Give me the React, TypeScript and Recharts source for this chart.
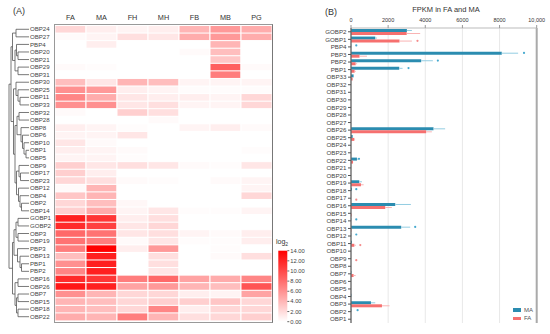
import {
  BarChart,
  Bar,
  Cell,
  XAxis,
  YAxis,
  ScatterChart,
  Scatter,
  ComposedChart,
  Line,
  ErrorBar,
  CartesianGrid,
  ReferenceLine,
} from 'recharts';

const FONT = '"Liberation Sans", Arial, sans-serif';

// heatmap rows, top to bottom (dendrogram leaf order)
const genes = [
  'OBP24', 'OBP27', 'PBP4', 'OBP20', 'OBP21', 'OBP29', 'OBP31', 'OBP30', 'OBP25', 'OBP11',
  'OBP33', 'OBP32', 'OBP28', 'OBP8', 'OBP6', 'OBP10', 'OBP1', 'OBP5', 'OBP9', 'OBP17',
  'OBP23', 'OBP12', 'OBP4', 'OBP2', 'OBP14', 'GOBP1', 'GOBP2', 'OBP3', 'OBP19', 'PBP3',
  'OBP13', 'PBP1', 'PBP2', 'OBP16', 'OBP26', 'OBP7', 'OBP15', 'OBP18', 'OBP22',
];
const tissues = ['FA', 'MA', 'FH', 'MH', 'FB', 'MB', 'PG'];

// log2 expression per tissue, same order as genes
const FA = [3, 0.5, 0, 0, 0, 0.5, 0, 4.5, 7, 7.5, 7, 0.5, 0, 1.5, 1, 2, 1.5, 1, 3.5, 3.5, 3, 0.5, 4, 3, 3.5, 12.5, 12, 9, 8.5, 8, 4.5, 7, 7.5, 12, 13, 7, 5, 5, 5.5];
const MA = [1.5, 1, 1.5, 0, 0, 0.3, 0, 2, 6.5, 5.5, 7, 0, 0, 1, 1, 0.5, 1, 1, 2, 1.5, 2.5, 5, 5, 4.5, 5.5, 11.5, 11, 8.5, 8, 14, 12.5, 12.5, 12.5, 11.5, 12.5, 5, 4.5, 4.5, 5];
const FH = [1, 2.5, 0, 0, 0, 0, 0, 5, 1.5, 2, 2, 3.5, 0, 0.3, 2, 0, 0.5, 0.3, 2.5, 0, 0.5, 0, 0, 0.8, 1, 1.5, 2, 2, 0.5, 1.5, 0, 0, 0, 8, 6, 3, 3, 3, 8];
const MH = [1.5, 2, 0, 0, 0, 0, 0, 4.5, 1, 1.5, 2.5, 2.5, 0.5, 0, 0, 0, 0, 0, 2, 0, 0.3, 0, 0, 0, 2, 2.5, 3, 2.5, 2, 6.5, 2.5, 2.5, 2, 9, 6.5, 3, 3.5, 7.5, 5];
const FB = [5, 5.5, 0, 0.5, 0, 0, 0, 1, 0.3, 1.5, 1, 0, 0, 1, 0, 0, 0, 0, 0.5, 0, 0, 0, 0, 0, 0.3, 0, 0, 1, 0.3, 0, 0, 0, 0, 6, 5, 1.5, 3.5, 1.5, 2.5];
const MB = [6.5, 6.5, 5, 4.5, 4, 9.5, 8, 1, 0.3, 1, 1, 0, 0, 1.5, 0, 0, 0, 0, 0.3, 0, 0.5, 0, 0, 0, 0.3, 0, 0, 0.5, 0.3, 0.3, 0.5, 0, 0, 5.5, 4.5, 1, 4, 3, 3];
const PG = [5.5, 5.5, 0, 0, 0, 0.5, 0, 1, 0.3, 3, 3, 0, 0, 0.5, 0, 0, 0.3, 0, 2, 0, 1, 1, 3, 0, 1, 0, 0, 1.5, 1.5, 0, 2.5, 0, 0, 7.5, 10, 6, 3, 3, 3.5];
const heatValues: Record<string, number[]> = { FA, MA, FH, MH, FB, MB, PG };

const legendTicks = [0, 2, 4, 6, 8, 10, 12, 14];

// dendrogram merges: [left, right, height, name]
const merges: [string, string, number, string][] = [
  ['OBP20', 'OBP21', 11, 'A'],
  ['PBP4', 'A', 12.5, 'B'],
  ['OBP29', 'OBP31', 11, 'C'],
  ['B', 'C', 14, 'D'],
  ['OBP24', 'OBP27', 13, 'E'],
  ['E', 'D', 16.5, 'F'],
  ['OBP11', 'OBP33', 9, 'G'],
  ['OBP25', 'G', 11, 'H'],
  ['OBP30', 'H', 13, 'I'],
  ['OBP1', 'OBP5', 3, 'J'],
  ['OBP10', 'J', 5, 'K'],
  ['OBP6', 'K', 6.5, 'L'],
  ['OBP8', 'L', 8, 'M'],
  ['OBP32', 'OBP28', 10, 'N'],
  ['N', 'M', 12, 'O'],
  ['OBP17', 'OBP23', 8.5, 'P'],
  ['OBP9', 'P', 10, 'Q'],
  ['OBP2', 'OBP14', 7.5, 'R'],
  ['OBP4', 'R', 9, 'S'],
  ['OBP12', 'S', 10.5, 'T'],
  ['Q', 'T', 12.5, 'U'],
  ['O', 'U', 14, 'V'],
  ['I', 'V', 15.5, 'W'],
  ['F', 'W', 18, 'X'],
  ['GOBP1', 'GOBP2', 11, 'Y1'],
  ['OBP3', 'OBP19', 11, 'Y2'],
  ['Y1', 'Y2', 13, 'Y3'],
  ['PBP1', 'PBP2', 7.5, 'Z1'],
  ['OBP13', 'Z1', 9, 'Z2'],
  ['PBP3', 'Z2', 11.5, 'Z3'],
  ['Y3', 'Z3', 15, 'Z4'],
  ['OBP16', 'OBP26', 11, 'a1'],
  ['OBP7', 'OBP15', 11, 'a2'],
  ['OBP18', 'OBP22', 11, 'a3'],
  ['a2', 'a3', 12.5, 'a4'],
  ['a1', 'a4', 14, 'a5'],
  ['Z4', 'a5', 16.5, 'a6'],
  ['X', 'a6', 20, 'root'],
];

// panel B: FPKM in FA and MA
const fpkmGenes = [
  'GOBP2', 'GOBP1', 'PBP4', 'PBP3', 'PBP2', 'PBP1', 'OBP33', 'OBP32', 'OBP31', 'OBP30',
  'OBP29', 'OBP28', 'OBP27', 'OBP26', 'OBP25', 'OBP24', 'OBP23', 'OBP22', 'OBP21', 'OBP20',
  'OBP19', 'OBP18', 'OBP17', 'OBP16', 'OBP15', 'OBP14', 'OBP13', 'OBP12', 'OBP11', 'OBP10',
  'OBP9', 'OBP8', 'OBP7', 'OBP6', 'OBP5', 'OBP4', 'OBP3', 'OBP2', 'OBP1',
];
const maFpkm = [3010, 1306, 10, 8118, 3780, 2597, 140, 0, 0, 0, 0, 0, 0, 4441, 90, 0, 0, 320, 0, 0, 446, 50, 0, 2382, 0, 10, 2704, 10, 50, 0, 0, 0, 20, 0, 0, 20, 1075, 20, 0];
const faFpkm = [3000, 2613, 0, 460, 250, 195, 90, 0, 0, 0, 0, 0, 0, 4048, 180, 0, 0, 110, 0, 0, 537, 0, 0, 1844, 30, 0, 20, 0, 180, 0, 0, 0, 140, 0, 0, 0, 1667, 0, 0];
const maTop: Record<string, number> = { GOBP2: 3280, GOBP1: 1400, PBP3: 9000, PBP2: 4409, PBP1: 2777, OBP26: 5070, OBP22: 410, OBP19: 590, OBP16: 3225, OBP13: 3188, OBP3: 1306 };
const faTop: Record<string, number> = { GOBP2: 3725, GOBP1: 3280, PBP3: 860, PBP2: 330, PBP1: 260, OBP26: 4355, OBP25: 220, OBP19: 680, OBP16: 2200, OBP11: 260, OBP7: 250, OBP3: 2075 };
const maDots: Record<string, number> = { PBP4: 285, PBP3: 9317, PBP2: 4677, PBP1: 3097, OBP22: 430, OBP18: 285, OBP14: 285, OBP13: 3457, OBP12: 285, OBP2: 355 };
const faDots: Record<string, number> = { GOBP1: 3580, OBP17: 285, OBP11: 500, OBP9: 285 };
const fpkmTicks = [0, 2000, 4000, 6000, 8000, 10000];

const series = [
  { key: 'MA', color: '#2b8cb0', err: '#93cde2', dot: '#46a9cf' },
  { key: 'FA', color: '#f6706f', err: '#f9b4b4', dot: '#f58b8b' },
];

function heatColor(v: number) {
  const t = Math.pow(Math.max(0, Math.min(1, v / 14)), 1.2);
  const gb = Math.round(255 * (1 - t));
  return `rgb(255,${gb},${gb})`;
}

const heatRows = genes.map((g) => {
  const row: Record<string, string | number> = { name: g };
  tissues.forEach((t) => (row[t] = 1));
  return row;
});

// dendrogram elbow polylines in (height, row) space
const nodePos: Record<string, { h: number; y: number }> = {};
genes.forEach((g, i) => (nodePos[g] = { h: 0, y: i }));
const dendroLinks = merges.map(([a, b, h, name]) => {
  const l = nodePos[a];
  const r = nodePos[b];
  nodePos[name] = { h, y: (l.y + r.y) / 2 };
  return [
    { x: l.h, y: l.y },
    { x: h, y: l.y },
    { x: h, y: r.y },
    { x: r.h, y: r.y },
  ];
});

const fpkmData = fpkmGenes.map((g, i) => ({
  name: g,
  MA: maFpkm[i],
  FA: faFpkm[i],
  MAerr: [0, maTop[g] != null ? maTop[g] - maFpkm[i] : 0],
  FAerr: [0, faTop[g] != null ? faTop[g] - faFpkm[i] : 0],
  MAdot: maDots[g] ?? null,
  FAdot: faDots[g] ?? null,
}));

const HeatTick = (p: any) => (
  <text x={p.x - 25} y={p.y} dy={2.1} fontSize={6.1} fill="#444" textAnchor="start">
    {p.payload.value}
  </text>
);

const dotAt = (color: string, dy: number, key: string) => (p: any) => {
  if (p.cx == null || p.cy == null || p.payload?.[key] == null) return <g key={p.index} />;
  return <circle key={p.index} cx={p.cx} cy={p.cy + dy} r={1.1} fill={color} />;
};

export default function App() {
  return (
    <div style={{ position: 'absolute', left: 0, top: 0, width: 550, height: 334, background: '#fff', fontFamily: FONT }}>
      <div style={{ position: 'absolute', left: 13, top: 6, fontSize: 9, lineHeight: '10px', color: '#333' }}>(A)</div>
      <div style={{ position: 'absolute', left: 325, top: 7, fontSize: 9, lineHeight: '10px', color: '#333' }}>(B)</div>

      {/* dendrogram */}
      <div style={{ position: 'absolute', left: 0, top: 0 }}>
        <ScatterChart width={40} height={334} margin={{ top: 25.5, right: 11, bottom: 13.5, left: 9 }}>
          <XAxis type="number" dataKey="x" domain={[0, 20]} reversed hide />
          <YAxis type="number" dataKey="y" domain={[-0.5, 38.5]} reversed hide />
          {dendroLinks.map((pts, i) => (
            <Scatter
              key={i}
              data={pts}
              line={{ stroke: '#555', strokeWidth: 0.8 }}
              shape={() => <g />}
              legendType="none"
              isAnimationActive={false}
            />
          ))}
        </ScatterChart>
      </div>

      {/* heatmap */}
      <div style={{ position: 'absolute', left: 0, top: 0 }}>
        <BarChart
          width={280}
          height={334}
          layout="vertical"
          data={heatRows}
          margin={{ top: 0, right: 8, bottom: 13.5, left: 30 }}
          barCategoryGap={0}
        >
          <XAxis
            type="number"
            orientation="top"
            domain={[0, 7]}
            ticks={[0.5, 1.5, 2.5, 3.5, 4.5, 5.5, 6.5]}
            interval={0}
            tickFormatter={(v: number) => tissues[Math.floor(v)]}
            height={25.5}
            axisLine={false}
            tickLine={false}
            tickSize={0}
            tickMargin={6}
            tick={{ fontSize: 7.3, fill: '#333' }}
          />
          <YAxis
            type="category"
            dataKey="name"
            width={25}
            interval={0}
            axisLine={false}
            tickLine={false}
            tickSize={0}
            tickMargin={0}
            tick={HeatTick}
          />
          {tissues.map((t) => (
            <Bar key={t} dataKey={t} stackId="h" stroke="#fff" strokeWidth={1} isAnimationActive={false}>
              {heatValues[t].map((v, i) => (
                <Cell key={i} fill={heatColor(v)} />
              ))}
            </Bar>
          ))}
        </BarChart>
      </div>
      <div
        style={{
          position: 'absolute',
          left: 54,
          top: 24,
          width: 219,
          height: 299,
          boxSizing: 'border-box',
          border: '1px solid #999',
          borderRight: '1.5px solid #777',
          pointerEvents: 'none',
        }}
      />

      {/* colour scale */}
      <div style={{ position: 'absolute', left: 276, top: 238, fontSize: 7, lineHeight: '8px', color: '#333' }}>
        log<sub style={{ fontSize: 5 }}>2</sub>
      </div>
      <div style={{ position: 'absolute', left: 270, top: 240 }}>
        <BarChart width={50} height={94} data={[{ name: 'log2', v: 14 }]} margin={{ top: 10.7, right: 0, bottom: 12.3, left: 8.3 }} barCategoryGap={0}>
          <defs>
            <linearGradient id="heatGrad" x1="0" y1="0" x2="0" y2="1">
              <stop offset="0%" stopColor="#ff0000" />
              <stop offset="100%" stopColor="#ffffff" />
            </linearGradient>
          </defs>
          <XAxis dataKey="name" hide />
          <YAxis
            orientation="right"
            domain={[0, 14]}
            ticks={legendTicks}
            interval={0}
            width={32.7}
            tickSize={2}
            tickMargin={1}
            axisLine={false}
            tickLine={{ stroke: '#666' }}
            tickFormatter={(v: number) => v.toFixed(2)}
            tick={{ fontSize: 5.8, fill: '#444' }}
          />
          <Bar dataKey="v" fill="url(#heatGrad)" isAnimationActive={false} />
        </BarChart>
      </div>

      {/* panel B */}
      <div style={{ position: 'absolute', left: 346, top: 5, width: 200, textAlign: 'center', fontSize: 7.5, lineHeight: '9px', color: '#333' }}>
        FPKM in FA and MA
      </div>
      <div style={{ position: 'absolute', left: 290, top: 0 }}>
        <ComposedChart
          width={260}
          height={334}
          layout="vertical"
          data={fpkmData}
          margin={{ top: 14, right: 13.3, bottom: 11, left: 11 }}
          barGap={0}
        >
          <CartesianGrid horizontal={false} stroke="#e8e8e8" />
          <XAxis
            type="number"
            orientation="top"
            domain={[0, 10000]}
            ticks={fpkmTicks}
            interval={0}
            height={14}
            tickSize={3}
            tickMargin={3}
            axisLine={{ stroke: '#bbb' }}
            tickLine={{ stroke: '#999' }}
            tickFormatter={(v: number) => (v === 10000 ? '10,000' : String(v))}
            tick={{ fontSize: 5.5, fill: '#333' }}
          />
          <XAxis
            xAxisId="bottom"
            type="number"
            orientation="bottom"
            domain={[0, 10000]}
            height={0}
            tick={false}
            tickLine={false}
            axisLine={{ stroke: '#aaa', strokeWidth: 1.5 }}
          />
          <YAxis
            type="category"
            dataKey="name"
            width={50}
            interval={0}
            tickSize={3}
            tickMargin={1.5}
            axisLine={{ stroke: '#666', strokeWidth: 1.3 }}
            tickLine={{ stroke: '#555' }}
            tick={{ fontSize: 6.2, fill: '#444' }}
          />
          <ReferenceLine x={10000} stroke="#aaa" strokeWidth={2} />
          {series.map((s) => (
            <Bar key={s.key} dataKey={s.key} fill={s.color} barSize={3} isAnimationActive={false}>
              <ErrorBar dataKey={`${s.key}err`} direction="x" width={0} stroke={s.err} strokeWidth={1} />
            </Bar>
          ))}
          {series.map((s, i) => (
            <Line
              key={`${s.key}dot`}
              dataKey={`${s.key}dot`}
              stroke="none"
              legendType="none"
              activeDot={false}
              dot={dotAt(s.dot, i === 0 ? -1.5 : 1.5, `${s.key}dot`)}
              isAnimationActive={false}
            />
          ))}
        </ComposedChart>
      </div>
      <div style={{ position: 'absolute', left: 513, top: 306 }}>
        {series.map((s) => (
          <div key={s.key} style={{ display: 'flex', alignItems: 'center', height: 8.3 }}>
            <div style={{ width: 8, height: 3.5, background: s.color, marginRight: 3 }} />
            <span style={{ fontSize: 6, color: '#555' }}>{s.key}</span>
          </div>
        ))}
      </div>
    </div>
  );
}
